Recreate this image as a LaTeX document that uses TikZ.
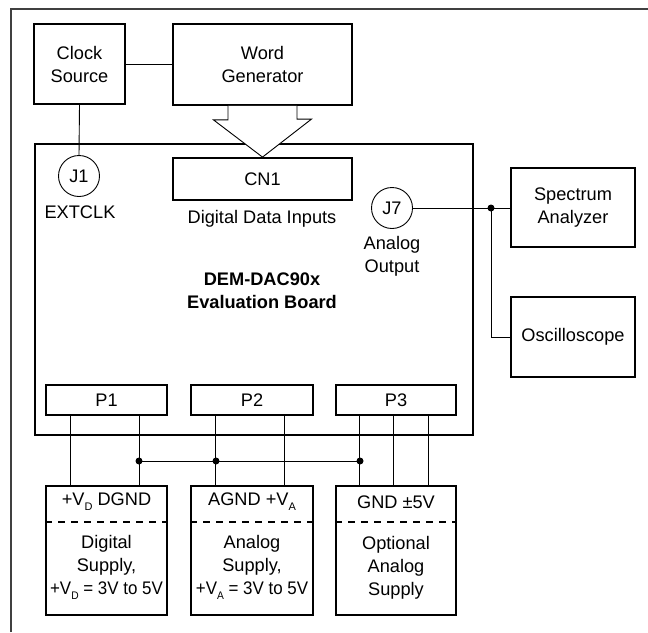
\documentclass[tikz,border=0pt]{standalone}
\usepackage{fontspec}
\usepackage{graphicx}
\setmainfont{Liberation Sans}
\newcommand\lowsub[1]{\raisebox{-0.28em}{\fontsize{11}{11}\selectfont #1}}
\begin{document}
\begin{tikzpicture}[x=1pt,y=-1pt, font=\fontsize{18.2}{23}\selectfont,
  box/.style={draw, line width=1.8pt, inner sep=0pt, align=center},
  wire/.style={line width=0.9pt},
  jack/.style={draw, circle, line width=0.9pt, minimum size=41pt, inner sep=0pt},
  jdot/.style={circle, fill, inner sep=0pt, minimum size=7pt},
  lbl/.style={align=center, inner sep=0pt},
  dashline/.style={line width=1.8pt, dash pattern=on 7pt off 6pt}]
\useasboundingbox (0,0) rectangle (648,632);
\draw[line width=2pt, black!75] (11,632) -- (11,9) -- (648,9);

% top instruments
\node[box, minimum width=91pt, minimum height=80pt] (cs) at (79.5,64) {Clock\\Source};
\node[box, minimum width=179pt, minimum height=81pt] (wg) at (262.5,64.5) {Word\\Generator};

% board
\node[box, minimum width=438pt, minimum height=291pt] (board) at (254,289.5) {};
\node[lbl, font=\fontsize{18.2}{23}\selectfont\bfseries] (title) at (262,290.5) {DEM-DAC90x\\Evaluation Board};
\node[box, minimum width=179pt, minimum height=42pt] (cn1) at (262.5,179) {CN1};
\node[lbl] (cn1l) at (262,219) {Digital Data Inputs};
\node[jack] (j1) at (79,176) {J1};
\node[lbl] (j1l) at (80,212) {EXTCLK};
\node[jack] (j7) at (392,208) {J7};
\node[lbl] (j7l) at (392,256) {Analog\\Output};

% arrow (bus)
\draw[wire, fill=white] ([xshift=-34.5pt]wg.south) -- ++(0,14) -- ++(-14.5,0) -- (cn1.north)
  -- ++(49,-38) -- ++(-14.5,0) -- ([xshift=34.5pt]wg.south);

% measurement instruments
\node[box, minimum width=124pt, minimum height=79pt] (sa) at (573,207.5) {Spectrum\\Analyzer};
\node[box, minimum width=124pt, minimum height=80pt] (os) at (573,337) {Oscilloscope};

% connectors
\draw[wire] (cs.east) -- (wg.west |- cs.east);
\draw[wire] (cs.south) -- (j1.north);
\coordinate (jn) at (491,208);
\draw[wire] (j7.east) -- (j7.east -| sa.west);
\draw[wire] (jn) |- (os.west);
\node[jdot] (jnd) at (jn) {};

% headers
\node[box, minimum width=121pt, minimum height=30pt] (p1) at (106.5,400) {P1};
\node[box, minimum width=122pt, minimum height=30pt] (p2) at (252,400) {P2};
\node[box, minimum width=120pt, minimum height=30pt] (p3) at (396,400) {P3};

% supplies
\node[box, minimum width=121pt, minimum height=129pt] (s1) at (106.5,550.5) {};
\node[box, minimum width=122pt, minimum height=129pt] (s2) at (252,550.5) {};
\node[box, minimum width=120pt, minimum height=129pt] (s3) at (396,550.5) {};
\draw[dashline] ([yshift=-37pt]s1.north west) -- ([yshift=-37pt]s1.north east);
\draw[dashline] ([yshift=-37pt]s2.north west) -- ([yshift=-37pt]s2.north east);
\draw[dashline] ([yshift=-37pt]s3.north west) -- ([yshift=-37pt]s3.north east);
\node[lbl] (s1a) at (106.5,502) {+V\lowsub{D} DGND};
\node[lbl] (s2a) at (252,502) {AGND +V\lowsub{A}};
\node[lbl] (s3a) at (396,502) {GND ±5V};
\node[lbl] (s1b) at (106.5,567.5) {Digital\\Supply,\\\scalebox{0.93}[1]{+V\lowsub{D} = 3V to 5V}};
\node[lbl] (s2b) at (252,567.5) {Analog\\Supply,\\\scalebox{0.93}[1]{+V\lowsub{A} = 3V to 5V}};
\node[lbl] (s3b) at (396,567.5) {Optional\\Analog\\Supply};

% supply wiring
\draw[wire] ([xshift=25pt]p1.south west) -- ([xshift=25pt]s1.north west);
\draw[wire] ([xshift=-28pt]p1.south east) -- ([xshift=-28pt]s1.north east);
\draw[wire] ([xshift=25pt]p2.south west) -- ([xshift=25pt]s2.north west);
\draw[wire] ([xshift=-29pt]p2.south east) -- ([xshift=-29pt]s2.north east);
\draw[wire] ([xshift=24pt]p3.south west) -- ([xshift=24pt]s3.north west);
\draw[wire] ([xshift=58pt]p3.south west) -- ([xshift=58pt]s3.north west);
\draw[wire] ([xshift=-28pt]p3.south east) -- ([xshift=-28pt]s3.north east);
\coordinate (b1) at (139,461);
\coordinate (b2) at (216,461);
\coordinate (b3) at (360,461);
\draw[wire] (b1) -- (b3);
\node[jdot] (b1d) at (b1) {};
\node[jdot] (b2d) at (b2) {};
\node[jdot] (b3d) at (b3) {};
\end{tikzpicture}
\end{document}
